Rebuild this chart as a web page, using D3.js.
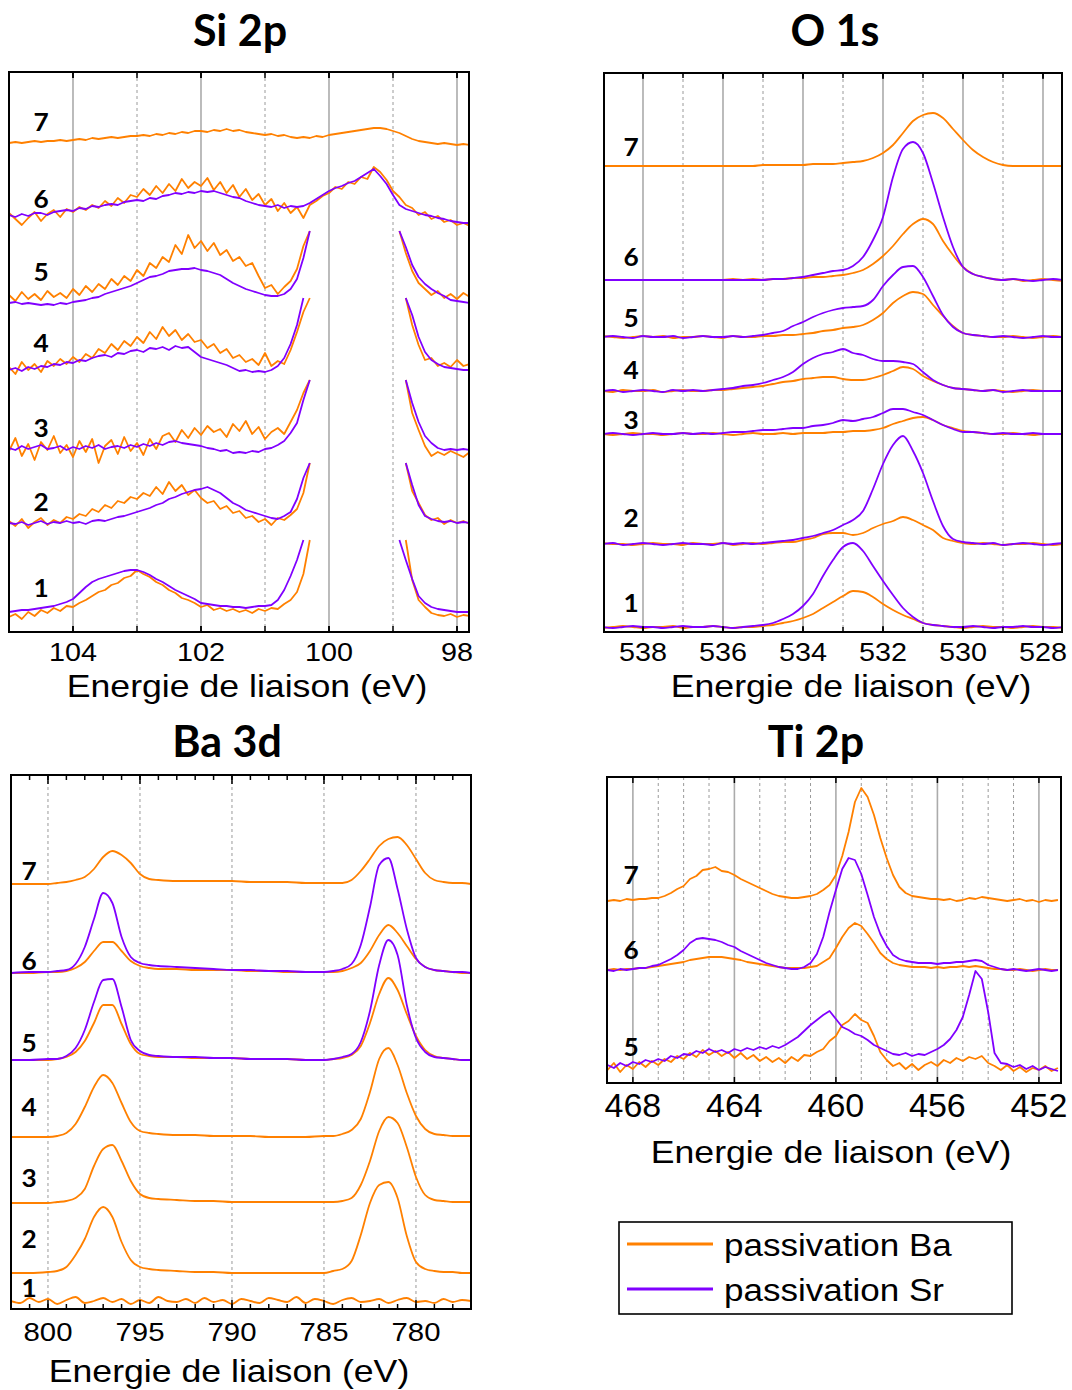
<!DOCTYPE html>
<html><head><meta charset="utf-8">
<script src="https://cdn.jsdelivr.net/npm/d3@7"></script>
<style>body{margin:0;background:#fff}svg{display:block}</style>
</head><body>
<svg id="c" width="1072" height="1390"></svg>
<script>
// ---------------- DATA ----------------
const samplesSi = [7,6,5,4,3,2,1];
const samplesO  = [7,6,5,4,3,2,1];
const samplesBa3d = [7,6,5,4,3,2,1];
const samplesTi = [7,6,5];
const seriesNames = ["passivation Ba","passivation Sr"];
const axisTitle = "Energie de liaison (eV)";
const titles = ["Si 2p","O 1s","Ba 3d","Ti 2p"];

const siTicks = [104,102,100,98];
const oTicks = [538,536,534,532,530,528];
const baTicks = [800,795,790,785,780];
const tiTicks = [468,464,460,456,452];

// Si 2p (binding energy, eV)
const siE = [105.0,104.9,104.8,104.7,104.6,104.5,104.4,104.3,104.2,104.1,
104.0,103.9,103.8,103.7,103.6,103.5,103.4,103.3,103.2,103.1,
103.0,102.9,102.8,102.7,102.6,102.5,102.4,102.3,102.2,102.1,
102.0,101.9,101.8,101.7,101.6,101.5,101.4,101.3,101.2,101.1,
101.0,100.9,100.8,100.7,100.6,100.5,100.4,100.3,100.2,100.1,
100.0,99.9,99.8,99.7,99.6,99.5,99.4,99.3,99.2,99.1,
99.0,98.9,98.8,98.7,98.6,98.5,98.4,98.3,98.2,98.1,
98.0,97.9,97.8];
const siOffsets = [488,416,328,261,183,108,19];
const N = null;
const si7Ba = [0,1,0,1,2,1,2,2,3,2, 3,4,3,5,4,5,6,5,6,7, 7,8,7,9,8,10,9,11,10,12, 12,11,13,12,14,12,13,11,10,9, 8,9,7,8,6,5,6,5,7,6, 8,9,10,11,12,13,14,15,15,14, 12,10,7,4,2,1,0,-1,0,-1, -2,-1,-2];
const si6Sr = [0,-2,1,-1,2,2,0,3,4,5, 4,7,6,9,8,10,11,10,13,14, 15,14,17,16,19,20,22,21,23,22, 24,23,24,22,20,18,17,14,12,10, 9,8,10,7,9,8,9,12,16,20, 24,27,29,32,34,38,42,46,39,31, 20,10,6,4,2,0,-1,-3,-4,-6, -7,-8,-8];
const si6Ba = [2,-4,-10,-3,3,-6,1,5,-2,6, 3,8,5,10,7,14,9,17,12,20, 18,26,20,29,22,31,24,36,27,33, 29,37,25,33,22,30,18,26,15,21, 10,16,4,12,2,8,-3,10,14,19, 22,28,26,33,31,38,36,48,43,35, 24,18,10,7,0,3,-4,-1,-7,-5, -10,-8,-11];
const si5Sr = [0,1,-1,0,-1,-2,-1,-2,0,-1, 1,2,3,5,6,9,11,13,15,17, 20,23,26,27,29,32,33,34,34,35, 33,32,30,28,24,20,17,14,12,10, 8,7,7,9,14,24,45,72,N,N, N,N,N,N,N,N,N,N,N,N, N,72,56,38,26,19,14,10,7,3, 2,1,0];
const si5Ba = [8,2,11,4,9,3,12,6,10,5, 14,8,17,11,19,14,24,18,27,22, 33,27,40,35,46,41,58,49,68,55, 62,52,60,48,53,42,46,37,40,27, 15,18,9,16,22,34,57,72,N,N, N,N,N,N,N,N,N,N,N,N, N,72,50,32,20,14,8,12,5,9, 4,10,6];
const si4Sr = [0,2,-1,3,1,4,3,6,5,8, 7,10,9,12,14,15,13,17,16,19, 20,18,22,21,23,20,24,22,23,18, 13,11,9,7,5,2,-1,0,-2,-1, -2,0,4,12,26,45,72,N,N,N, N,N,N,N,N,N,N,N,N,N, N,N,72,55,33,18,10,6,3,2, 1,0,0];
const si4Ba = [3,-4,8,0,6,-2,9,4,11,6, 13,8,16,12,21,17,26,20,29,24, 33,27,38,31,43,34,40,30,36,28, 30,22,26,17,21,12,15,8,11,5, 17,4,9,6,20,38,58,72,N,N, N,N,N,N,N,N,N,N,N,N, N,N,72,45,25,10,12,4,7,3, 10,4,6];
const si3Sr = [0,-2,2,-1,1,3,-1,0,2,-2, 1,-1,2,0,3,-1,1,2,0,3, 1,4,2,5,3,6,7,5,4,3, 2,0,-1,-3,-2,-5,-4,-5,-3,-4, -1,0,3,7,15,25,48,68,N,N, N,N,N,N,N,N,N,N,N,N, N,N,68,45,26,12,5,0,-2,-1, -2,-1,-2];
const si3Ba = [-3,10,-8,4,-12,6,-2,12,-5,3, -9,7,-4,9,-15,2,8,-6,11,-3, 5,-7,9,-1,12,15,6,18,10,20, 13,22,16,19,11,24,17,27,14,21, 9,16,20,14,26,38,55,68,N,N, N,N,N,N,N,N,N,N,N,N, N,N,68,35,18,2,-8,-4,-7,-3, -6,-9,-4];
const si2Sr = [0,-1,1,-2,0,2,-1,1,0,2, 0,1,-1,2,3,2,4,6,7,9, 11,13,15,18,20,24,26,29,31,33, 34,36,33,30,25,20,17,13,11,9, 7,5,4,7,11,24,45,60,N,N, N,N,N,N,N,N,N,N,N,N, N,N,60,38,18,7,4,2,1,2, 0,1,0];
const si2Ba = [2,-3,4,-5,1,5,-2,3,0,6, 4,9,7,14,11,18,15,22,20,26, 24,30,27,36,29,41,32,38,28,33, 25,20,22,14,17,10,12,5,7,1, 4,-2,5,3,8,14,30,60,N,N, N,N,N,N,N,N,N,N,N,N, N,N,60,32,20,8,3,5,-1,3, 0,2,-1];
const si1Sr = [0,1,2,2,3,4,5,6,8,10, 13,19,25,30,33,35,37,39,41,42, 42,40,37,33,30,26,22,19,16,13, 9,8,7,6,6,5,5,4,5,6, 6,7,12,22,36,52,72,N,N,N, N,N,N,N,N,N,N,N,N,N, N,72,52,33,16,9,5,3,2,1, 0,0,0];
const si1Ba = [-5,-2,-7,0,-4,2,-1,4,1,6, 5,9,12,16,20,22,27,29,34,36, 42,38,35,30,27,22,19,14,12,9, 5,7,2,4,1,3,0,2,-1,3, 1,4,3,8,12,20,38,72,N,N, N,N,N,N,N,N,N,N,N,N, N,N,72,32,12,5,-1,-3,-4,-2, -5,-3,-4];

// O 1s
const oE = [539,538.75,538.5,538.25,538,537.75,537.5,537.25,537,536.75,
536.5,536.25,536,535.75,535.5,535.25,535,534.75,534.5,534.25,
534,533.75,533.5,533.25,533,532.75,532.5,532.25,532,531.75,
531.5,531.25,531,530.75,530.5,530.25,530,529.75,529.5,529.25,
529,528.75,528.5,528.25,528,527.75,527.5];
const oOffsets = [465,351,294,240,197,87,4];
const o7Ba = [0,0,0,0,0,0,0,0,0,0,0,0,0,0,0,0,1,1,1,1,1,2,2,2,3,4,5,8,13,21,33,45,51,53,48,37,26,16,9,4,1,0,0,0,0,0,0];
const o6Sr = [0,0,0,0,0,0,0,0,0,0,0,0,0,0,0,0,0,1,1,2,3,5,7,9,10,14,23,40,63,103,131,138,127,97,63,33,13,6,3,1,0,1,0,-1,0,1,0];
const o6Ba = [0,0,0,0,0,0,0,0,0,0,0,0,0,1,0,1,0,1,1,2,2,3,3,4,5,7,10,16,24,34,46,56,61,56,39,25,13,6,3,1,0,1,-1,0,1,0,-1];
const o5Sr = [0,1,0,-1,1,0,0,1,-1,0,1,0,0,1,0,1,2,4,6,11,15,20,24,27,29,30,31,37,51,62,70,71,60,41,22,10,4,2,1,0,1,0,-1,0,1,0,0];
const o5Ba = [1,0,-1,0,1,0,1,-1,0,0,1,0,-1,1,0,0,1,1,2,2,3,4,6,7,9,10,12,17,24,34,41,45,43,32,21,11,4,2,1,0,0,1,0,-1,0,1,0];
const o4Sr = [0,1,-1,0,1,0,-1,1,0,1,0,1,2,3,5,6,8,11,14,19,27,33,37,39,42,38,36,32,30,30,29,27,19,11,6,3,2,1,0,1,-1,0,1,0,0,0,0];
const o4Ba = [0,-1,1,0,0,1,-1,0,1,0,0,1,1,2,3,4,5,7,9,10,12,13,14,14,12,11,11,13,16,20,24,22,15,10,6,3,2,1,0,1,0,-1,0,1,0,0,0];
const o3Sr = [0,1,0,-1,0,1,0,0,1,0,1,0,1,2,2,3,4,4,5,6,6,8,9,11,14,13,15,17,21,25,25,22,19,14,9,5,2,2,1,0,1,0,0,1,0,0,0];
const o3Ba = [0,-1,0,1,0,0,-1,0,1,0,0,1,0,-1,0,1,0,0,1,0,1,1,1,2,2,3,3,4,6,10,13,16,17,14,9,6,3,2,1,0,0,1,0,-1,0,0,0];
const o2Sr = [0,1,-1,0,1,0,-1,0,1,0,0,-1,1,0,1,0,1,2,3,4,6,8,11,14,19,24,33,55,80,99,108,93,71,43,18,5,2,1,0,1,-1,0,1,0,-1,0,1];
const o2Ba = [1,0,0,-1,0,1,0,0,-1,1,0,0,1,-1,0,1,0,1,2,2,4,6,10,11,11,9,11,16,20,23,27,24,19,14,6,3,1,0,1,0,-1,0,0,1,0,-1,0];
const o1Sr = [0,-1,0,1,0,0,-1,0,1,0,0,1,0,-1,0,1,2,4,8,13,21,33,51,67,80,84,76,61,46,32,19,10,4,2,1,0,0,1,0,-1,0,0,1,0,0,-1,0];
const o1Ba = [-1,0,1,0,-1,0,0,1,-1,0,0,1,0,-1,0,0,1,2,4,6,9,13,19,25,31,36,35,30,23,17,12,8,4,2,1,0,-1,0,1,0,0,-1,0,1,0,0,-1];

// Ba 3d
const baE = [802,801,800,799.5,799,798.5,798,797.5,797,796.5,796,795.5,795,794.5,794,793,792,791,790,789,788,787,786,785,784.5,784,783.5,783,782.5,782,781.5,781,780.5,780,779.5,779,778.5,778,777.5,777];
const ba1E = [802,801.5,801,800.5,800,799.5,799,798.5,798,797.5,797,796.5,796,795.5,795,794.5,794,793.5,793,792.5,792,791.5,791,790.5,790,789.5,789,788.5,788,787.5,787,786.5,786,785.5,785,784.5,784,783.5,783,782.5,782,781.5,781,780.5,780,779.5,779,778.5,778,777.5,777];
const baOffsets = [425,336,249,172,106,36,8];
const ba7Ba = [0,0,0,1,2,4,7,15,27,33,29,21,10,5,4,3,3,3,3,2,2,2,1,1,1,1,4,13,25,38,45,47,39,25,11,4,2,1,1,0];
const ba6Sr = [0,1,1,2,3,9,26,54,80,70,36,16,10,8,7,6,5,4,3,3,2,2,1,1,2,4,9,28,66,108,115,84,44,15,6,3,2,1,1,0];
const ba6Ba = [0,0,1,1,2,5,11,22,31,31,22,12,7,5,4,4,3,3,3,2,2,1,1,1,1,2,5,10,22,38,48,40,27,14,6,3,2,1,0,0];
const ba5Sr = [0,0,1,1,4,12,30,58,80,81,53,20,9,5,4,3,3,2,2,1,1,1,0,0,1,3,6,18,49,95,120,105,55,22,8,3,2,1,0,0];
const ba5Ba = [0,0,0,1,3,8,19,37,55,55,36,16,6,4,3,3,2,2,2,1,1,1,0,0,1,2,5,14,37,66,82,70,46,24,10,4,2,1,0,0];
const ba4Ba = [0,0,0,1,4,13,30,50,62,54,34,15,6,4,3,2,2,1,1,1,0,0,0,1,1,3,7,18,45,78,89,72,44,21,8,3,2,1,1,1];
const ba3Ba = [0,0,0,1,2,5,14,37,54,58,42,22,9,5,4,3,2,2,1,1,1,1,1,1,1,2,5,18,42,72,86,80,56,26,8,3,2,1,1,1];
const ba2Ba = [0,0,1,2,6,18,34,56,66,56,31,13,6,4,3,2,1,1,0,0,0,0,0,0,2,4,12,38,70,88,91,75,37,11,4,2,1,1,0,0];
const ba1Ba = [0,-2,3,-1,2,-3,1,4,-2,0,3,-1,2,-3,1,-2,4,0,-1,2,-2,3,-1,1,-3,2,0,-2,3,1,-1,4,-2,2,0,-3,1,3,-1,0,2,-2,1,3,-1,0,-2,2,-1,1,0];

// Ti 2p
const tiE = [469,468.75,468.5,468.25,468,467.75,467.5,467.25,467,466.75,
466.5,466.25,466,465.75,465.5,465.25,465,464.75,464.5,464.25,
464,463.75,463.5,463.25,463,462.75,462.5,462.25,462,461.75,
461.5,461.25,461,460.75,460.5,460.25,460,459.75,459.5,459.25,
459,458.75,458.5,458.25,458,457.75,457.5,457.25,457,456.75,
456.5,456.25,456,455.75,455.5,455.25,455,454.75,454.5,454.25,
454,453.75,453.5,453.25,453,452.75,452.5,452.25,452,451.75,
451.5,451.25];
const tiOffsets = [182,112,15];
const ti7Ba = [-1,0,-1,1,0,1,1,2,2,4, 7,11,14,21,24,30,31,33,29,28, 25,21,18,15,12,9,6,4,3,2, 2,3,4,6,10,15,25,44,68,98, 112,103,85,62,42,25,13,7,4,3, 2,1,1,0,1,-1,0,2,1,3, 2,1,0,-1,0,1,-1,0,-2,0, -1,0];
const ti6Ba = [0,1,0,1,1,2,2,3,4,5, 6,7,8,10,11,12,13,13,13,12, 11,10,8,7,6,5,4,3,2,2, 2,2,3,4,8,12,22,33,42,47, 44,36,27,17,11,7,5,4,3,3, 3,2,3,2,3,3,4,3,4,3, 2,1,1,0,0,1,0,-1,0,1, 0,0];
const ti6Sr = [0,-1,1,0,1,2,2,4,5,8, 11,15,20,27,31,32,31,30,28,25, 23,19,16,13,10,7,5,3,2,1, 1,3,7,16,33,58,80,101,112,110, 96,75,53,36,24,15,11,9,8,7, 7,7,6,7,7,8,8,9,10,9, 5,3,1,0,1,0,-1,0,1,0, -1,0];
const ti5Ba = [-3,4,-5,2,-2,5,0,6,2,8, 5,11,8,14,10,17,12,16,11,15, 9,14,8,12,6,10,5,9,4,10, 6,12,11,15,18,26,31,42,46,53, 47,44,31,15,7,1,4,-2,3,-3, 2,5,1,7,4,9,6,10,8,11, 4,1,-3,2,-4,0,-5,-1,-3,1, -4,-1];
const ti5Sr = [2,-1,4,1,5,3,7,5,8,6, 11,9,13,12,16,14,18,15,17,14, 18,16,19,17,20,18,21,19,22,26, 30,36,42,47,52,56,48,40,37,33, 31,27,22,19,16,13,12,14,11,13, 12,15,18,22,28,37,50,72,96,88, 55,14,4,3,0,2,-2,1,-3,0, -2,-4];

// ---------------- DRAWING ----------------
const COLORS = ["#FF8000","#8000FF"];
const svg = d3.select("#c");
svg.append("rect").attr("width",1072).attr("height",1390).attr("fill","#fff");
const SANS = "'Liberation Sans', Arial, sans-serif";
const BOLD = "Lato, 'Open Sans', sans-serif";

function txt(g, x, y, s, o) {
  g.append("text")
    .attr("transform", `translate(${x},${y}) scale(${o.sx||1},1)`)
    .attr("text-anchor", o.anchor || "middle")
    .style("font-family", o.font || SANS)
    .style("font-size", o.size + "px")
    .style("font-weight", o.weight || 400)
    .attr("fill", "#000")
    .text(s);
}

function drawPanel(cfg, idx) {
  const [bx0, by0, bx1, by1] = cfg.box;
  const g = svg.append("g");
  const x = d3.scaleLinear().domain(cfg.xDom).range([bx0, bx1]);
  const y = d3.scaleLinear().domain([0, 100]).range([cfg.yBase, cfg.yBase - 100]);
  const cid = "clip" + idx;
  svg.append("clipPath").attr("id", cid).append("rect")
    .attr("x", bx0).attr("y", by0).attr("width", bx1 - bx0).attr("height", by1 - by0);

  // grid
  cfg.dashed.forEach(v => g.append("line").attr("x1", x(v)).attr("x2", x(v)).attr("y1", by0).attr("y2", by1)
    .attr("stroke", "#9a9a9a").attr("stroke-width", 1).attr("stroke-dasharray", "3,3"));
  cfg.solid.forEach(v => g.append("line").attr("x1", x(v)).attr("x2", x(v)).attr("y1", by0).attr("y2", by1)
    .attr("stroke", "#ababab").attr("stroke-width", 1.6));

  // curves
  const cg = g.append("g").attr("clip-path", `url(#${cid})`);
  cfg.spectra.forEach((sp, i) => {
    const off = cfg.offsets[i];
    [sp.ba, sp.sr].forEach((arr, k) => {
      if (!arr) return;
      const E = (k === 0 && sp.baE) ? sp.baE : cfg.E;
      const pts = arr.map((v, j) => ({e: E[j], v}));
      const line = d3.line().defined(d => d.v !== null)
        .x(d => x(d.e)).y(d => y(off + d.v)).curve(cfg.curve);
      cg.append("path").attr("d", line(pts)).attr("fill", "none")
        .attr("stroke", COLORS[k]).attr("stroke-width", 1.8).attr("stroke-linejoin", "round");
    });
  });

  // box
  g.append("rect").attr("x", bx0).attr("y", by0).attr("width", bx1 - bx0).attr("height", by1 - by0)
    .attr("fill", "none").attr("stroke", "#000").attr("stroke-width", 2);

  // ticks
  cfg.minor.forEach(v => {
    g.append("line").attr("x1", x(v)).attr("x2", x(v)).attr("y1", by0).attr("y2", by0 + cfg.minorLen).attr("stroke", "#000").attr("stroke-width", 1.5);
    g.append("line").attr("x1", x(v)).attr("x2", x(v)).attr("y1", by1).attr("y2", by1 - cfg.minorLen).attr("stroke", "#000").attr("stroke-width", 1.5);
  });
  cfg.ticks.forEach(v => {
    g.append("line").attr("x1", x(v)).attr("x2", x(v)).attr("y1", by0).attr("y2", by0 + cfg.majorLen).attr("stroke", "#000").attr("stroke-width", 1.5);
    g.append("line").attr("x1", x(v)).attr("x2", x(v)).attr("y1", by1).attr("y2", by1 - cfg.majorLen).attr("stroke", "#000").attr("stroke-width", 1.5);
    txt(g, x(v), cfg.tickY, String(v), {size: cfg.tickSize, sx: cfg.tickSx});
  });

  // axis title and panel title
  txt(g, cfg.axisX, cfg.axisY, axisTitle, {size: 31, sx: 1.15});
  txt(g, cfg.titleX, cfg.titleY, cfg.title, {size: 43, weight: 700, font: BOLD});

  // sample numbers
  cfg.spectra.forEach((sp, i) => {
    txt(g, cfg.labelX, cfg.labelY[i] + 9, String(sp.n), {size: 25, weight: 700, font: BOLD, sx: 1.05});
  });
}

function spectra(samples, ba, sr, extra) {
  return samples.map((n, i) => Object.assign({n, ba: ba[i], sr: sr[i]}, (extra && extra[i]) || {}));
}
function range1(a, b) { const r = []; for (let v = a; v >= b; v--) r.push(v); return r; }

const panels = [
  { title: titles[0], box: [9, 72, 469, 632], yBase: 631, xDom: [105, 97.8125], E: siE,
    offsets: siOffsets, curve: d3.curveLinear,
    spectra: spectra(samplesSi, [si7Ba, si6Ba, si5Ba, si4Ba, si3Ba, si2Ba, si1Ba], [null, si6Sr, si5Sr, si4Sr, si3Sr, si2Sr, si1Sr]),
    solid: [104, 102, 100, 98], dashed: [103, 101, 99], ticks: siTicks, minor: range1(104, 98),
    majorLen: 6, minorLen: 6, tickY: 661, tickSize: 25, tickSx: 1.15,
    axisX: 247, axisY: 697, titleX: 240, titleY: 46,
    labelX: 41, labelY: [122, 199, 272, 343, 428, 502, 588] },
  { title: titles[1], box: [604, 73, 1062, 632], yBase: 631, xDom: [538.975, 527.525], E: oE,
    offsets: oOffsets, curve: d3.curveMonotoneX,
    spectra: spectra(samplesO, [o7Ba, o6Ba, o5Ba, o4Ba, o3Ba, o2Ba, o1Ba], [null, o6Sr, o5Sr, o4Sr, o3Sr, o2Sr, o1Sr]),
    solid: [538, 536, 534, 532, 530, 528], dashed: [537, 535, 533, 531, 529], ticks: oTicks, minor: range1(538, 528),
    majorLen: 6, minorLen: 5, tickY: 661, tickSize: 25, tickSx: 1.15,
    axisX: 851, axisY: 697, titleX: 835, titleY: 46,
    labelX: 631, labelY: [147, 257, 318, 370, 420, 518, 603] },
  { title: titles[2], box: [11, 775, 471, 1309], yBase: 1309, xDom: [802.01, 777.01], E: baE,
    offsets: baOffsets, curve: d3.curveMonotoneX,
    spectra: spectra(samplesBa3d, [ba7Ba, ba6Ba, ba5Ba, ba4Ba, ba3Ba, ba2Ba, ba1Ba], [null, ba6Sr, ba5Sr, null, null, null, null],
      [null, null, null, null, null, null, {baE: ba1E}]),
    solid: [], dashed: baTicks, ticks: baTicks, minor: range1(801, 778),
    majorLen: 9, minorLen: 5, tickY: 1341, tickSize: 26, tickSx: 1.13,
    axisX: 229, axisY: 1382, titleX: 227, titleY: 757,
    labelX: 29, labelY: [871, 961, 1043, 1107, 1178, 1239, 1288] },
  { title: titles[3], box: [607, 777, 1061, 1083], yBase: 1082, xDom: [469.02, 451.13], E: tiE,
    offsets: tiOffsets, curve: d3.curveLinear,
    spectra: spectra(samplesTi, [ti7Ba, ti6Ba, ti5Ba], [null, ti6Sr, ti5Sr]),
    solid: tiTicks, dashed: [469,467,466,465,463,462,461,459,458,457,455,454,453], ticks: tiTicks, minor: [],
    majorLen: 6, minorLen: 0, tickY: 1117, tickSize: 34, tickSx: 1.0,
    axisX: 831, axisY: 1163, titleX: 816, titleY: 757,
    labelX: 631, labelY: [875, 950, 1047] }
];
panels.forEach((p, i) => drawPanel(p, i));

// legend
const lg = svg.append("g");
lg.append("rect").attr("x", 619).attr("y", 1222).attr("width", 393).attr("height", 92)
  .attr("fill", "#fff").attr("stroke", "#000").attr("stroke-width", 1.6);
seriesNames.forEach((s, i) => {
  const yy = 1244 + i * 45;
  lg.append("line").attr("x1", 627).attr("x2", 713).attr("y1", yy).attr("y2", yy)
    .attr("stroke", COLORS[i]).attr("stroke-width", 3);
  txt(lg, 724, yy + 12, s, {size: 31, sx: 1.13, anchor: "start"});
});
</script>
</body></html>
